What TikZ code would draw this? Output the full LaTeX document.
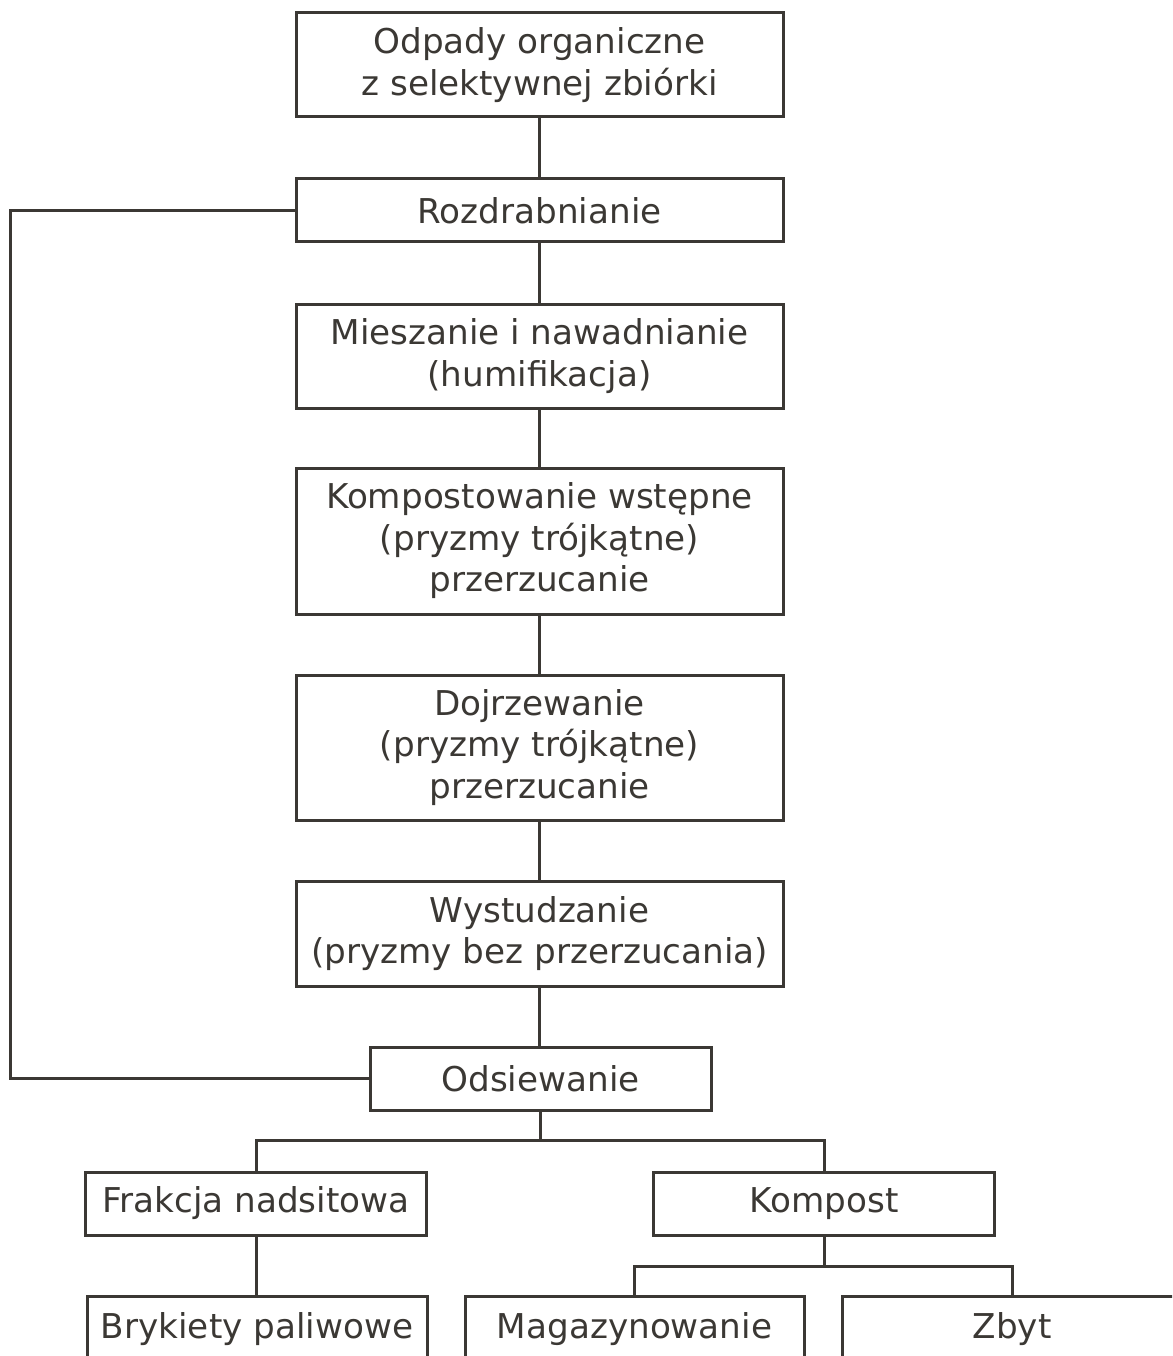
\documentclass[tikz,border=0pt]{standalone}
\usepackage{fontspec}
\setmainfont{DejaVu Sans}
\definecolor{ink}{HTML}{3B3834}
\tikzset{
  box/.style={draw=ink, line width=3pt, text=ink, inner sep=0pt, align=center,
    font=\fontsize{34.2}{41.5}\selectfont},
  mainbox/.style={box, minimum width=487pt},
  smallbox/.style={box, minimum width=341pt, minimum height=63pt},
  conn/.style={draw=ink, line width=3pt}
}
\begin{document}
\begin{tikzpicture}[x=1pt,y=-1pt]
\useasboundingbox (0,0) rectangle (1172,1356);
\clip (0,0) rectangle (1172,1356);
\node[mainbox, minimum height=104pt] (n1) at (539.5,65) {Odpady organiczne\\z selektywnej zbiórki};
\node[mainbox, minimum height=63pt] (n2) at (539.5,210.5) {Rozdrabnianie};
\node[mainbox, minimum height=104pt] (n3) at (539.5,356) {Mieszanie i nawadnianie\\(humifikacja)};
\node[mainbox, minimum height=146pt] (n4) at (539.5,541) {Kompostowanie wstępne\\(pryzmy trójkątne)\\przerzucanie};
\node[mainbox, minimum height=145pt] (n5) at (539.5,747.5) {Dojrzewanie\\(pryzmy trójkątne)\\przerzucanie};
\node[mainbox, minimum height=105pt] (n6) at (539.5,933.5) {Wystudzanie\\(pryzmy bez przerzucania)};
\node[smallbox] (ods) at (540.5,1078.5) {Odsiewanie};
\node[smallbox] (frak) at (256,1203.5) {Frakcja nadsitowa};
\node[smallbox] (komp) at (824,1203.5) {Kompost};
\node[box, minimum width=340pt, minimum height=66pt] (bryk) at (257,1329) {Brykiety paliwowe};
\node[box, minimum width=339pt, minimum height=66pt] (mag) at (634.5,1329) {Magazynowanie};
\node[box, minimum width=340pt, minimum height=66pt] (zbyt) at (1012,1329) {Zbyt};
\coordinate (b1) at (540,1140);
\coordinate (b2) at (824,1266);
\coordinate (fb) at (10,640);
\draw[conn] (n1) -- (n2);
\draw[conn] (n2) -- (n3);
\draw[conn] (n3) -- (n4);
\draw[conn] (n4) -- (n5);
\draw[conn] (n5) -- (n6);
\draw[conn] (n6.south) -- (n6.south |- ods.north);
\draw[conn] (ods.south) -- (ods.south |- b1);
\draw[conn] (frak.north) |- (b1) -| (komp.north);
\draw[conn] (frak.south) -- (frak.south |- bryk.north);
\draw[conn] (komp.south) -- (b2);
\draw[conn] (mag.north) |- (b2) -| (zbyt.north);
\draw[conn] (n2.west) -| (fb) |- (ods.west);
\end{tikzpicture}
\end{document}
